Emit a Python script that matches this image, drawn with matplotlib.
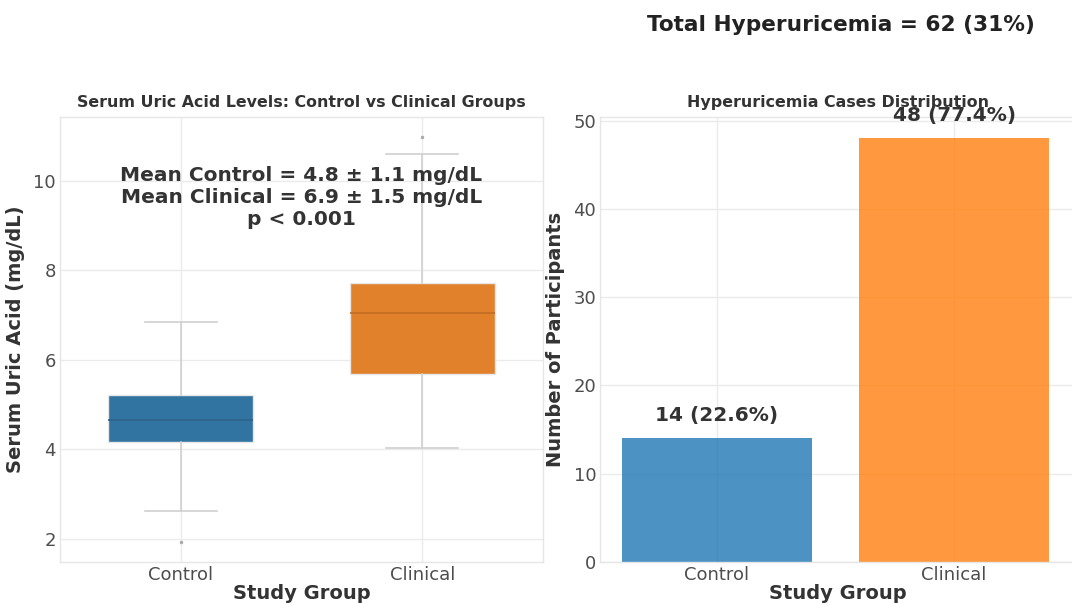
import matplotlib
matplotlib.use("Agg")
from matplotlib import pyplot as plt

# box summary per group (mg/dL)
groups = ["Control", "Clinical"]
q1 = [4.16, 5.69]
med = [4.65, 7.04]
q3 = [5.21, 7.71]
whis_lo = [2.62, 4.02]
whis_hi = [6.85, 10.60]
fliers = [[1.93], [10.98]]

# hyperuricemia counts per group
cases = [14, 48]
case_pct = [22.6, 77.4]
total_cases = 62
total_pct = 31

box_colors = ["#3274a1", "#e1812c"]
median_colors = ["#2a6189", "#c06d24"]
bar_colors = ["#1f77b4", "#ff7f0e"]

plt.rcParams["font.family"] = "DejaVu Sans"
fig = plt.figure(figsize=(10.72, 6.03), dpi=100)
ax1 = fig.add_axes([0.056, 0.068, 0.4505, 0.738])
ax2 = fig.add_axes([0.56, 0.068, 0.443, 0.738])

def styleAx(ax):
    ax.set_facecolor("white")
    ax.grid(True, color="#ebebeb", linewidth=1.0)
    ax.set_axisbelow(True)
    for s in ax.spines.values():
        s.set_color("#e6e6e6")
        s.set_linewidth(1.0)
    ax.tick_params(axis="both", colors="#4d4d4d", labelsize=13, length=0, pad=3)

# left: boxplot from summary stats
stats = []
for i in range(len(groups)):
    stats.append({"label": groups[i], "q1": q1[i], "med": med[i], "q3": q3[i],
                  "whislo": whis_lo[i], "whishi": whis_hi[i], "fliers": fliers[i]})
styleAx(ax1)
bp = ax1.bxp(stats, positions=range(len(groups)), widths=0.6, patch_artist=True,
             whiskerprops=dict(color="#d0d0d0", linewidth=1.2),
             capprops=dict(color="#d0d0d0", linewidth=1.2),
             flierprops=dict(marker="o", markersize=1.5, markerfacecolor="#aaaaaa",
                             markeredgecolor="#aaaaaa"),
             medianprops=dict(linewidth=1.2))
for i, box in enumerate(bp["boxes"]):
    box.set_facecolor(box_colors[i])
    box.set_edgecolor("#e8e8e8")
    box.set_linewidth(1.0)
    bp["medians"][i].set_color(median_colors[i])
ax1.set_xlim(-0.5, 1.5)
ax1.set_ylim(1.48, 11.43)
ax1.set_yticks([2, 4, 6, 8, 10])
ax1.set_title("Serum Uric Acid Levels: Control vs Clinical Groups",
              fontsize=11.4, fontweight="bold", color="#333333", pad=7)
ax1.set_xlabel("Study Group", fontsize=14, fontweight="bold", color="#333333", labelpad=0)
ax1.set_ylabel("Serum Uric Acid (mg/dL)", fontsize=14, fontweight="bold", color="#333333",
               labelpad=6)
ax1.text(0.5, 0.89, "Mean Control = 4.8 \u00b1 1.1 mg/dL\nMean Clinical = 6.9 \u00b1 1.5 mg/dL\np < 0.001",
         transform=ax1.transAxes, ha="center", va="top", fontsize=14.5,
         fontweight="bold", color="#333333", linespacing=1.2)

# right: bar chart of cases
styleAx(ax2)
ax2.bar(range(len(groups)), cases, width=0.8, color=bar_colors, alpha=0.8)
for i, c in enumerate(cases):
    ax2.text(i, c + 1.5, "%d (%.1f%%)" % (c, case_pct[i]), ha="center", va="bottom",
             fontsize=14.5, fontweight="bold", color="#333333")
ax2.set_xticks(range(len(groups)))
ax2.set_xticklabels(groups)
ax2.set_xlim(-0.49, 1.51)
ax2.set_ylim(0, 50.4)
ax2.set_title("Hyperuricemia Cases Distribution", fontsize=11.4, fontweight="bold",
              color="#333333", pad=7)
ax2.set_xlabel("Study Group", fontsize=14, fontweight="bold", color="#333333", labelpad=0)
ax2.set_ylabel("Number of Participants", fontsize=14, fontweight="bold", color="#333333",
               labelpad=6)

fig.text(0.784, 0.958, "Total Hyperuricemia = %d (%d%%)" % (total_cases, total_pct),
         ha="center", va="center", fontsize=15.6, fontweight="bold", color="#222222")

fig.savefig("out.png", dpi=100, facecolor="white")
